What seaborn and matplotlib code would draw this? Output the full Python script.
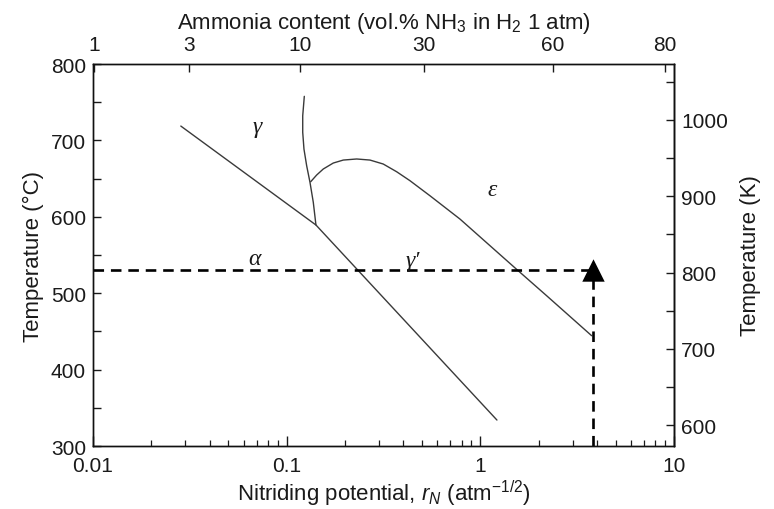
import matplotlib
matplotlib.use("Agg")
import matplotlib.pyplot as plt
from matplotlib.ticker import MultipleLocator, NullLocator, LogLocator
import seaborn as sns

# Phase boundaries of the Lehrer diagram (nitriding potential vs temperature)
# alpha/gamma and alpha/gamma' boundary
alpha_rn = [0.0284, 0.1416, 1.218]
alpha_t = [718.8, 589.3, 334.0]

# gamma / gamma' boundary
gg_rn = [0.1233, 0.1210, 0.1210, 0.1228, 0.1268, 0.1319, 0.1372, 0.1416]
gg_t = [757.7, 732.3, 710.6, 688.7, 666.9, 645.2, 619.0, 589.3]

# gamma' / epsilon boundary
eps_rn = [0.1330, 0.1428, 0.1545, 0.1740, 0.1960, 0.2298, 0.2692, 0.3152,
          0.3697, 0.4330, 0.5071, 0.5492, 0.7847, 1.569, 2.20, 3.755]
eps_t = [645.9, 654.7, 662.6, 670.4, 674.3, 675.7, 674.3, 669.1,
         659.0, 647.3, 634.2, 627.6, 597.1, 529.4, 496.7, 444.4]

# process condition
proc_rn = 3.8
proc_t = 530

phase_labels = ["γ", "α", "γ′", "ε"]
phase_rn = [0.0703, 0.0685, 0.449, 1.148]
phase_t = [718.8, 544.8, 542.2, 636.4]

ammonia_vol = [1, 3, 10, 30, 60, 80]
temp_c_ticks = [300, 400, 500, 600, 700, 800]
temp_k_ticks = [600, 700, 800, 900, 1000]

sns.set_theme(style="ticks")
plt.rcParams["font.family"] = ["Liberation Sans", "DejaVu Sans"]
plt.rcParams["mathtext.fontset"] = "custom"
plt.rcParams["mathtext.rm"] = "Liberation Sans"
plt.rcParams["mathtext.it"] = "Liberation Sans:italic"
plt.rcParams["mathtext.bf"] = "Liberation Sans:bold"

FS = 15
LFS = 16
TXT = "#1a1a1a"
LINE = "#3a3a3a"

fig = plt.figure(figsize=(7.74, 5.10), dpi=100)
ax = fig.add_axes([0.1202, 0.1235, 0.7506, 0.749])
ax.set_xscale("log")
ax.set_xlim(0.01, 10)
ax.set_ylim(300, 800)

for xs, ys in [(alpha_rn, alpha_t), (gg_rn, gg_t), (eps_rn, eps_t)]:
    sns.lineplot(x=xs, y=ys, sort=False, estimator=None, color=LINE,
                 linewidth=1.0, ax=ax)

# dashed guide lines to the process point
sns.lineplot(x=[0.01, proc_rn], y=[proc_t, proc_t], sort=False, estimator=None,
             color="black", linewidth=1.9, ax=ax).lines[-1].set_dashes((4, 2.6))
sns.lineplot(x=[proc_rn, proc_rn], y=[300, proc_t], sort=False, estimator=None,
             color="black", linewidth=1.9, ax=ax).lines[-1].set_dashes((4, 2.6))
sns.scatterplot(x=[proc_rn], y=[proc_t], marker="^", s=260, color="black",
                linewidth=0, ax=ax, zorder=5)

for lab, x, y in zip(phase_labels, phase_rn, phase_t):
    ax.text(x, y, lab, fontsize=17, family="Liberation Serif", style="italic",
            ha="center", va="center", color=TXT)

# bottom / left axes
ax.set_yticks(temp_c_ticks)
ax.yaxis.set_minor_locator(MultipleLocator(50))
ax.xaxis.set_minor_locator(LogLocator(base=10, subs=range(2, 10), numticks=20))
ax.set_xticks([0.01, 0.1, 1, 10], labels=["0.01", "0.1", "1", "10"])
ax.tick_params(which="both", direction="in", colors=TXT, labelsize=FS,
               top=False, right=False)
ax.tick_params(axis="y", which="both", length=6, width=1.0, pad=5)
ax.tick_params(axis="x", which="major", length=7, width=1.0, pad=7)
ax.tick_params(axis="x", which="minor", length=4, width=0.9)
ax.set_xlabel(r"Nitriding potential, $r_N$ (atm$^{-1/2}$)", fontsize=LFS,
              color=TXT, labelpad=2)
ax.set_ylabel("Temperature (°C)", fontsize=LFS, color=TXT, labelpad=5)

# right axis in kelvin
sec = ax.secondary_yaxis("right", functions=(lambda c: c + 273, lambda k: k - 273))
sec.set_yticks(temp_k_ticks)
sec.yaxis.set_minor_locator(MultipleLocator(50))
sec.tick_params(which="both", direction="in", length=6, width=1.0,
                colors=TXT, labelsize=FS, pad=5)
sec.set_ylabel("Temperature (K)", fontsize=LFS, color=TXT, labelpad=9)

# top axis: ammonia content in hydrogen at 1 atm
top = ax.twiny()
top.set_xscale("log")
top.set_xlim(ax.get_xlim())
top_pos = [v / 100 / (1 - v / 100) ** 1.5 for v in ammonia_vol]
top.set_xticks(top_pos, labels=[str(v) for v in ammonia_vol])
top.xaxis.set_minor_locator(NullLocator())
top.tick_params(direction="in", length=6, width=1.0, colors=TXT,
                labelsize=FS, pad=7)
top.set_xlabel(r"Ammonia content (vol.% NH$_3$ in H$_2$ 1 atm)", fontsize=LFS,
               color=TXT, labelpad=5)

for a in (ax, top):
    for s in a.spines.values():
        s.set_color("#111111")
        s.set_linewidth(1.0)
sec.spines["right"].set_linewidth(1.0)

fig.savefig("out.png", dpi=100, facecolor="white")
